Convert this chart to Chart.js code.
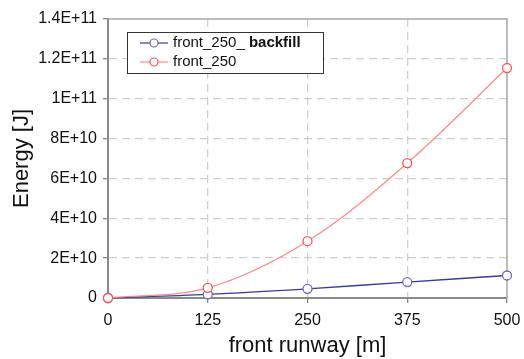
<!DOCTYPE html>
<html>
<head>
<meta charset="utf-8">
<script src="https://cdn.jsdelivr.net/npm/chart.js@4/dist/chart.umd.min.js"></script>
<style>
  html,body{margin:0;padding:0;background:#fff;}
  #wrap{width:524px;height:359px;}
</style>
</head>
<body>
<div id="wrap"><canvas id="chart" width="524" height="359"></canvas></div>
<script>
// --------------------
// DATA
// --------------------
const runway = [0, 125, 250, 375, 500];
const backfill = [0, 1.8e9, 4.6e9, 8.0e9, 1.13e10];
const front = [0, 5.1e9, 2.85e10, 6.77e10, 1.154e11];
const xTickLabels = ['0', '125', '250', '375', '500'];
const yTickLabels = ['0', '2E+10', '4E+10', '6E+10', '8E+10', '1E+11', '1.2E+11', '1.4E+11'];
const seriesNames = ['front_250_ backfill', 'front_250'];

// --------------------
// HELPERS
// --------------------
function pts(ys){ return runway.map((x,i)=>({x:x, y:ys[i]})); }
const FONT = '"Liberation Sans", Arial, sans-serif';
const gridCol = '#cfcfcf';

// frame top + right, like the excel plot area
const framePlugin = {
  id:'frame',
  beforeDatasetsDraw(chart){
    const a = chart.chartArea, c = chart.ctx;
    c.save();
    c.strokeStyle = '#a6a6a6'; c.lineWidth = 1.5;
    c.beginPath();
    c.moveTo(a.left, a.top); c.lineTo(a.right, a.top); c.lineTo(a.right, a.bottom);
    c.stroke();
    c.restore();
  }
};

// legend box inside the plot
const legendPlugin = {
  id:'boxLegend',
  afterDraw(chart){
    const c = chart.ctx;
    const bx = 127, by = 32, bw = 196, bh = 41;
    c.save();
    c.fillStyle = '#fff'; c.fillRect(bx, by, bw, bh);
    c.strokeStyle = '#333'; c.lineWidth = 1;
    c.strokeRect(bx+0.5, by+0.5, bw, bh);
    chart.data.datasets.forEach((ds, i)=>{
      const y = by + 11 + i*19;
      c.strokeStyle = ds.borderColor; c.lineWidth = 1.2;
      c.beginPath(); c.moveTo(140, y); c.lineTo(168, y); c.stroke();
      c.beginPath(); c.arc(154, y, 4, 0, Math.PI*2);
      c.fillStyle = '#fff'; c.fill();
      c.strokeStyle = ds.pointBorderColor; c.lineWidth = 1.2; c.stroke();
      c.fillStyle = '#111'; c.textBaseline = 'middle'; c.textAlign = 'left';
      const name = seriesNames[i];
      if(name.indexOf(' ')>0){
        const parts = name.split(' ');
        c.font = '15px ' + FONT;
        c.fillText(parts[0] + ' ', 173, y);
        const w = c.measureText(parts[0] + ' ').width;
        c.font = 'bold 15px ' + FONT;
        c.fillText(parts[1], 173 + w, y);
      } else {
        c.font = '15px ' + FONT;
        c.fillText(name, 173, y);
      }
    });
    c.restore();
  }
};

// --------------------
// CHART
// --------------------
const ctx = document.getElementById('chart').getContext('2d');
new Chart(ctx, {
  type:'line',
  data:{ datasets:[
    {label:seriesNames[0], data:pts(backfill), borderColor:'#3a3a9c', borderWidth:1.3,
     pointRadius:4.5, pointBorderWidth:1.3, pointBackgroundColor:'#fff', pointBorderColor:'#6a6ac8',
     tension:0.35, order:1, clip:false},
    {label:seriesNames[1], data:pts(front), borderColor:'#ff8a8a', borderWidth:1.3,
     pointRadius:4.5, pointBorderWidth:1.3, pointBackgroundColor:'#fff', pointBorderColor:'#ff5252',
     tension:0.35, order:0, clip:false}
  ]},
  options:{
    responsive:false, animation:false,
    layout:{padding:{left:0, right:17, top:19, bottom:0}},
    plugins:{legend:{display:false}, tooltip:{enabled:false}},
    scales:{
      x:{
        type:'linear', min:0, max:500,
        afterBuildTicks(s){ s.ticks = runway.map(v=>({value:v})); },
        afterFit(s){ s.height = 61; s.paddingLeft = 0; s.paddingRight = 0; },
        ticks:{ callback:(v,i)=>xTickLabels[i], color:'#111', font:{family:FONT, size:16}, padding:8, maxRotation:0 },
        grid:{ color:(c)=> (c.tick && (c.tick.value===0 || c.tick.value===500)) ? 'rgba(0,0,0,0)' : gridCol,
               tickColor:'#888', tickLength:5, lineWidth:1.3 },
        border:{ display:true, color:'#8a8a8a', width:2, dash:[8,5] },
        title:{ display:true, text:'front runway [m]', color:'#111', font:{family:FONT, size:22}, padding:{top:4, bottom:0} }
      },
      y:{
        min:0, max:1.4e11,
        afterBuildTicks(s){ s.ticks = yTickLabels.map((t,i)=>({value:i*2e10})); },
        afterFit(s){ s.width = 108; },
        ticks:{ callback:(v,i)=>yTickLabels[i], color:'#111', font:{family:FONT, size:16}, padding:6 },
        grid:{ color:(c)=> (c.tick && (c.tick.value===0 || c.tick.value>=1.4e11)) ? 'rgba(0,0,0,0)' : gridCol,
               tickColor:'#888', tickLength:5, lineWidth:1.3 },
        border:{ display:true, color:'#8a8a8a', width:2, dash:[8,5] },
        title:{ display:true, text:'Energy [J]', color:'#111', font:{family:FONT, size:22}, padding:{top:9, bottom:0} }
      }
    }
  },
  plugins:[framePlugin, legendPlugin]
});
</script>
</body>
</html>
